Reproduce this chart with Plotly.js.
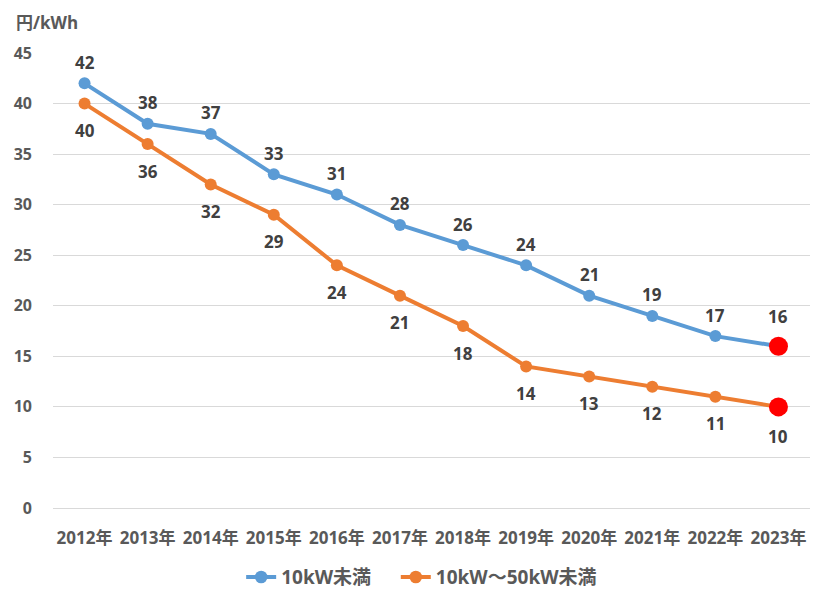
<!DOCTYPE html>
<html>
<head>
<meta charset="utf-8">
<script src="https://cdn.plot.ly/plotly-3.0.1.min.js"></script>
<style>html,body{margin:0;padding:0;background:#fff;}#chart{width:824px;height:600px;}</style>
</head>
<body>
<div id="chart"></div>
<script>
const years = ["2012年","2013年","2014年","2015年","2016年","2017年","2018年","2019年","2020年","2021年","2022年","2023年"];
const seriesNames = ["10kW未満", "10kW～50kW未満"];
const under10 = [42, 38, 37, 33, 31, 28, 26, 24, 21, 19, 17, 16];
const from10to50 = [40, 36, 32, 29, 24, 21, 18, 14, 13, 12, 11, 10];
const yTicks = [0, 5, 10, 15, 20, 25, 30, 35, 40, 45];

const FONT = '"Open Sans", "Noto Sans CJK JP", sans-serif';
const blue = '#5B9BD5', orange = '#ED7D31', red = '#FF0000';

function colorsFor(base, n) { return Array.from({length: n}, (_, i) => i === n - 1 ? red : base); }
function sizesFor(n) { return Array.from({length: n}, (_, i) => i === n - 1 ? 19 : 12); }

const traces = [
  {
    x: years, y: under10, name: seriesNames[0] + '\u00a0\u00a0\u00a0\u00a0', type: 'scatter', mode: 'lines+markers',
    line: {color: blue, width: 4},
    marker: {color: colorsFor(blue, under10.length), size: sizesFor(under10.length), opacity: 1, line: {width: 0}},
    cliponaxis: false
  },
  {
    x: years, y: from10to50, name: seriesNames[1], type: 'scatter', mode: 'lines+markers',
    line: {color: orange, width: 4},
    marker: {color: colorsFor(orange, from10to50.length), size: sizesFor(from10to50.length), opacity: 1, line: {width: 0}},
    cliponaxis: false
  }
];

const labelFont = {family: FONT, size: 17, color: '#404040', weight: 'bold'};
const annotations = [];
years.forEach((yr, i) => {
  const last = i === years.length - 1;
  annotations.push({x: yr, y: under10[i], text: String(under10[i]), showarrow: false,
    yanchor: 'middle', yshift: last ? 30 : 21, font: labelFont});
  annotations.push({x: yr, y: from10to50[i], text: String(from10to50[i]), showarrow: false,
    yanchor: 'middle', yshift: last ? -30 : -27, font: labelFont});
});
annotations.push({
  text: '円/kWh', xref: 'paper', yref: 'paper', x: -0.052, y: 1.068, xanchor: 'left', yanchor: 'middle',
  showarrow: false, font: {family: FONT, size: 17, color: '#595959', weight: 'bold'}
});

const layout = {
  width: 824, height: 600,
  margin: {l: 53, r: 14, t: 53, b: 92, autoexpand: false},
  paper_bgcolor: '#fff', plot_bgcolor: '#fff',
  showlegend: true,
  legend: {orientation: 'h', x: 0.487, xanchor: 'center', yref: 'container', y: 0.038, yanchor: 'middle',
    font: {family: FONT, size: 19, color: '#595959', weight: 'bold'}},
  xaxis: {
    type: 'category', range: [-0.5, 11.5], showgrid: false, showline: false, ticks: '', tickangle: 0,
    ticklabelstandoff: 18,
    tickfont: {family: FONT, size: 17, color: '#595959', weight: 'bold'}, fixedrange: true
  },
  yaxis: {
    range: [0, 45], tickvals: yTicks, ticktext: yTicks.map(String), showgrid: true, gridcolor: '#d9d9d9', gridwidth: 1,
    zeroline: true, zerolinecolor: '#d9d9d9', zerolinewidth: 1, showline: false, ticks: '',
    ticklabelstandoff: 20,
    tickfont: {family: FONT, size: 16, color: '#595959', weight: 'bold'}, fixedrange: true
  },
  annotations: annotations
};

Plotly.newPlot('chart', traces, layout, {displayModeBar: false, staticPlot: true});
</script>
</body>
</html>
